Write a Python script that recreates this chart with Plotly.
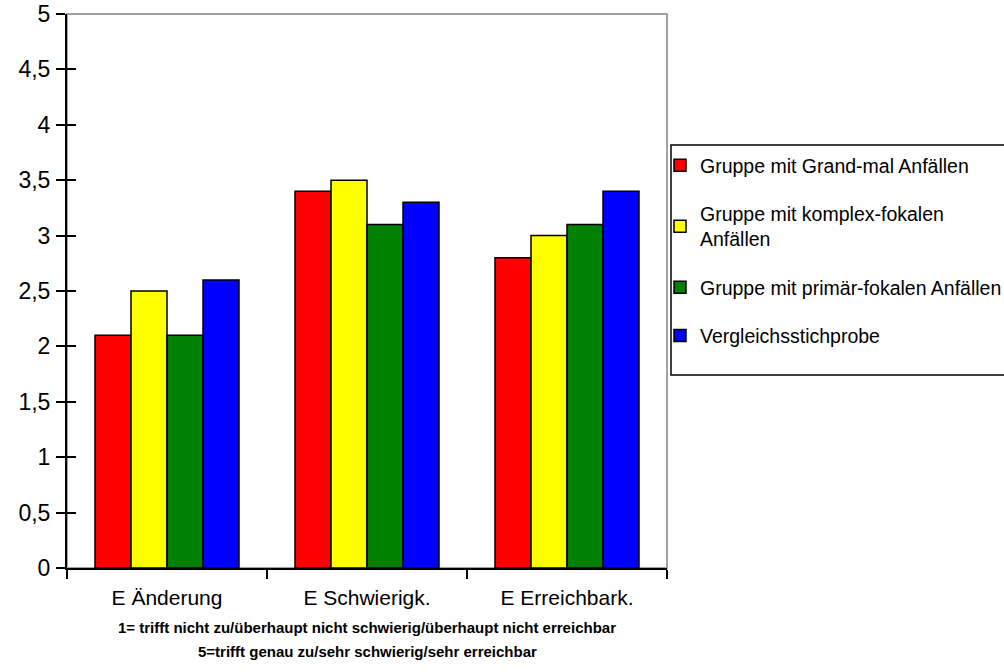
import plotly.graph_objects as go

# Kategorien und Mittelwerte je Gruppe
categories = ["E Änderung", "E Schwierigk.", "E Erreichbark."]
series_names = [
    "Gruppe mit Grand-mal Anfällen",
    "Gruppe mit komplex-fokalen<br>Anfällen",
    "Gruppe mit primär-fokalen Anfällen",
    "Vergleichsstichprobe",
]
grand_mal = [2.1, 3.4, 2.8]
komplex_fokal = [2.5, 3.5, 3.0]
primaer_fokal = [2.1, 3.1, 3.1]
vergleich = [2.6, 3.3, 3.4]
y_ticks = [0, 0.5, 1, 1.5, 2, 2.5, 3, 3.5, 4, 4.5, 5]
note_lines = [
    "1= trifft nicht zu/überhaupt nicht schwierig/überhaupt nicht erreichbar",
    "5=trifft genau zu/sehr schwierig/sehr erreichbar",
]

colors = ["#ff0000", "#ffff00", "#008000", "#0000ff"]
values = [grand_mal, komplex_fokal, primaer_fokal, vergleich]

FONT = "Liberation Sans, Arial, sans-serif"
W, H = 1004, 672

fig = go.Figure()
for i, (name, vals, col) in enumerate(zip(series_names, values, colors)):
    fig.add_trace(go.Bar(
        x=categories, y=vals, name=name, legendgroup=f"g{i}",
        marker=dict(color=col, line=dict(color="black", width=1.5)),
    ))

# unsichtbare Hilfsspur, damit die y-Striche auch nach innen zeigen
fig.add_trace(go.Scatter(x=[categories[0]], y=[0], yaxis="y2", mode="markers",
                         marker=dict(opacity=0), showlegend=False, hoverinfo="skip"))

fig.update_layout(
    width=W, height=H,
    margin=dict(l=67, r=337, t=14, b=104, autoexpand=False),
    paper_bgcolor="white", plot_bgcolor="white",
    separators=", ",
    barmode="group", bargap=0.28, bargroupgap=0,
    font=dict(family=FONT, color="black"),
    xaxis=dict(
        type="category", range=[-0.5, 2.5],
        showline=True, linecolor="black", linewidth=2,
        ticks="outside", tickson="boundaries", ticklen=9, tickwidth=1.5, tickcolor="black",
        tickfont=dict(size=21, family=FONT, color="black"),
        ticklabelstandoff=10, showgrid=False, zeroline=False,
    ),
    yaxis=dict(
        range=[0, 5], tickvals=y_ticks,
        showline=True, linecolor="black", linewidth=2,
        ticks="outside", ticklen=9, tickwidth=1.5, tickcolor="black",
        tickfont=dict(size=23, family=FONT, color="black"),
        ticklabelstandoff=1, showgrid=False, zeroline=False,
    ),
    yaxis2=dict(
        range=[0, 5], tickvals=y_ticks, overlaying="y", side="left", anchor="x",
        ticks="inside", ticklen=9, tickwidth=1.5, tickcolor="black",
        showticklabels=False, showgrid=False, zeroline=False, showline=False,
    ),
    legend=dict(
        xref="container", yref="container",
        x=660 / W, y=1 - 146 / H, xanchor="left", yanchor="top",
        bgcolor="rgba(0,0,0,0)", borderwidth=0,
        font=dict(size=19.5, family=FONT, color="black"),
        tracegroupgap=20, itemwidth=30,
    ),
    shapes=[
        # grauer Rahmen oben/rechts um die Zeichenfläche
        dict(type="rect", xref="paper", yref="paper", x0=0, y0=0, x1=1, y1=1,
             line=dict(color="#a0a0a0", width=2), layer="below"),
        # Rahmen der Legende, rechts über den Bildrand hinaus
        dict(type="rect", xref="paper", yref="paper",
             x0=(671 - 67) / 600, x1=(1012 - 67) / 600,
             y0=(568 - 375) / 554, y1=(568 - 145) / 554,
             line=dict(color="black", width=1.5), fillcolor="white", layer="below"),
    ],
)

for k, line in enumerate(note_lines):
    fig.add_annotation(
        text=f"<b>{line}</b>", xref="paper", yref="paper",
        x=0.5, y=-0.1083 - k * 0.0433, xanchor="center", yanchor="middle",
        showarrow=False, font=dict(size=15, family=FONT, color="black"),
    )

fig.write_html("out.html")
